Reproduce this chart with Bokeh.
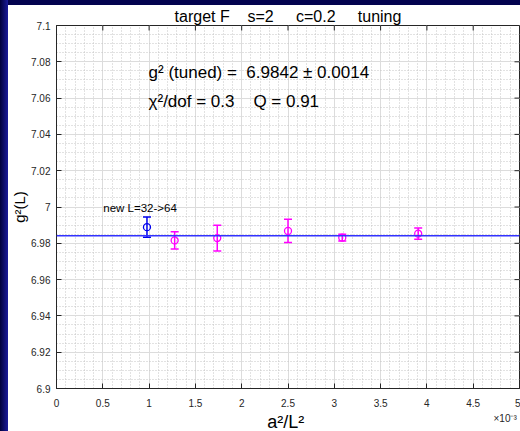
from bokeh.plotting import figure
from bokeh.models import (ColumnDataSource, Whisker, Span, Label,
                          FixedTicker, Range1d, Spacer, TeeHead)
from bokeh.layouts import row, column
from bokeh.embed import file_html
from bokeh.resources import INLINE
import numpy as np

# ---- data (x in units of 1e-3) ----
x_new = [0.977]
y_new = [6.9889]
err_new = [0.0056]

x_old = [1.276, 1.736, 2.500, 3.086, 3.906]
y_old = [6.9816, 6.9829, 6.9868, 6.9831, 6.9853]
err_old = [0.0048, 0.0071, 0.0064, 0.0019, 0.0031]

g2_tuned = 6.9842

x_ticks = [0, 0.5, 1, 1.5, 2, 2.5, 3, 3.5, 4, 4.5, 5]
x_tick_labels = ["0", "0.5", "1", "1.5", "2", "2.5", "3", "3.5", "4", "4.5", "5"]
y_ticks = [6.9, 6.92, 6.94, 6.96, 6.98, 7.0, 7.02, 7.04, 7.06, 7.08, 7.1]
y_tick_labels = ["6.9", "6.92", "6.94", "6.96", "6.98", "7", "7.02", "7.04", "7.06", "7.08", "7.1"]

title_text = "target F\u00a0\u00a0\u00a0\u00a0s=2\u00a0\u00a0\u00a0\u00a0\u00a0c=0.2\u00a0\u00a0\u00a0\u00a0\u00a0tuning"
fit_text = "g\u00b2 (tuned) =\u00a0 6.9842 \u00b1 0.0014"
chi_text = "\u03c7\u00b2/dof = 0.3\u00a0\u00a0\u00a0\u00a0Q = 0.91"
new_text = "new L=32->64"
x_label = "a\u00b2/L\u00b2"
x_scale_text = "\u00d710\u207b\u00b3"
y_label = "g\u00b2(L)"

FONT = "Liberation Sans"
AX = "#262626"
W = 512
BH = 22  # height of the strip carrying the x-axis label

src_new = ColumnDataSource(dict(x=x_new, y=y_new,
                                lo=[a - b for a, b in zip(y_new, err_new)],
                                hi=[a + b for a, b in zip(y_new, err_new)]))
src_old = ColumnDataSource(dict(x=x_old, y=y_old,
                                lo=[a - b for a, b in zip(y_old, err_old)],
                                hi=[a + b for a, b in zip(y_old, err_old)]))

p = figure(width=W, height=426 - BH, x_range=Range1d(0, 5), y_range=Range1d(6.9, 7.1),
           output_backend="svg", toolbar_location=None,
           min_border_left=48, min_border_right=1, min_border_top=19, min_border_bottom=20)
p.background_fill_color = "white"
p.border_fill_color = "white"
p.outline_line_color = AX
p.outline_line_width = 1

p.title.text = title_text
p.title.align = "center"
p.title.text_font = FONT
p.title.text_font_size = "16px"
p.title.text_font_style = "normal"
p.title.text_color = "black"
p.title.standoff = 1

x_minor = list(np.round(np.arange(0, 5.0001, 0.1), 4))
y_minor = list(np.round(np.arange(6.9, 7.10001, 0.005), 4))
xt = FixedTicker(ticks=x_ticks, minor_ticks=x_minor)
yt = FixedTicker(ticks=y_ticks, minor_ticks=y_minor)

for ax in p.xaxis:
    ax.ticker = xt
    ax.major_label_overrides = {t: l for t, l in zip(x_ticks, x_tick_labels)}
    ax.major_label_standoff = 6
for ax in p.yaxis:
    ax.ticker = yt
    ax.major_label_overrides = {t: l for t, l in zip(y_ticks, y_tick_labels)}
    ax.axis_label = y_label
    ax.axis_label_text_font = FONT
    ax.axis_label_text_font_size = "15px"
    ax.axis_label_text_font_style = "normal"
    ax.axis_label_text_color = "black"
    ax.axis_label_standoff = 0
    ax.major_label_standoff = 2

for ax in list(p.xaxis) + list(p.yaxis):
    ax.axis_line_color = AX
    ax.major_tick_line_color = AX
    ax.major_tick_in = 5
    ax.major_tick_out = 0
    ax.minor_tick_line_color = None
    ax.major_label_text_font = FONT
    ax.major_label_text_font_size = "10px"
    ax.major_label_text_color = AX

# inward ticks on the top and right edges of the box
tick_dy = 5 * 0.2 / 365
tick_dx = 5 * 5.0 / 463
p.segment(x0=x_ticks, y0=[7.1] * len(x_ticks), x1=x_ticks, y1=[7.1 - tick_dy] * len(x_ticks),
          line_color=AX, line_width=1)
p.segment(x0=[5.0] * len(y_ticks), y0=y_ticks, x1=[5.0 - tick_dx] * len(y_ticks), y1=y_ticks,
          line_color=AX, line_width=1)

p.xgrid.ticker = xt
p.ygrid.ticker = yt
for g in (p.xgrid, p.ygrid):
    g.grid_line_color = "#dcdcdc"
    g.grid_line_width = 1
    g.minor_grid_line_color = "#c4c4c4"
    g.minor_grid_line_dash = "1 2"
    g.minor_grid_line_width = 1

p.add_layout(Span(location=g2_tuned, dimension="width", line_color="#3333ff", line_width=1.5))

for src, col in ((src_old, "#ff00ff"), (src_new, "#0000ee")):
    w = Whisker(base="x", lower="lo", upper="hi", source=src, line_color=col, line_width=1.5,
                upper_head=TeeHead(size=8, line_color=col, line_width=1.5),
                lower_head=TeeHead(size=8, line_color=col, line_width=1.5))
    p.add_layout(w)
    p.scatter("x", "y", source=src, marker="circle", size=7, fill_color=None,
              line_color=col, line_width=1.3)

p.add_layout(Label(x=0.994, y=7.0742, text=fit_text, text_align="left",
                   text_baseline="middle", text_font=FONT, text_font_size="17px",
                   text_color="black"))
p.add_layout(Label(x=0.994, y=7.0584, text=chi_text, text_align="left",
                   text_baseline="middle", text_font=FONT, text_font_size="17px",
                   text_color="black"))
p.add_layout(Label(x=0.505, y=6.9992, text=new_text, text_align="left",
                   text_baseline="middle", text_font=FONT, text_font_size="11.5px",
                   text_color="black"))

# ---------- strip under the plot: x-axis label and exponent ----------
# (its frame is aligned with the main plot's frame by the column layout)
b = figure(width=W, height=BH, x_range=Range1d(0, W), y_range=Range1d(0, BH),
           title=None, output_backend="svg", toolbar_location=None,
           x_axis_type=None, y_axis_type=None,
           min_border_left=0, min_border_right=0, min_border_top=0, min_border_bottom=0)
b.outline_line_color = None
b.background_fill_color = "white"
b.border_fill_color = "white"
b.add_layout(Label(x=233, y=10, text=x_label, text_align="left",
                   text_baseline="middle", text_font=FONT, text_font_size="18px",
                   text_color="black"))
b.add_layout(Label(x=509, y=13, text=x_scale_text, text_align="right",
                   text_baseline="middle", text_font=FONT, text_font_size="10px",
                   text_color=AX))

left_strip = Spacer(width=8, height=431,
                    styles={"background": "linear-gradient(to right, #00003a, #1a1a9a)"})
top_strip = Spacer(width=W, height=5, styles={"background": "#03034f"})
layout = row(left_strip, column(top_strip, p, b))

open("out.html", "w").write(file_html(layout, INLINE))
